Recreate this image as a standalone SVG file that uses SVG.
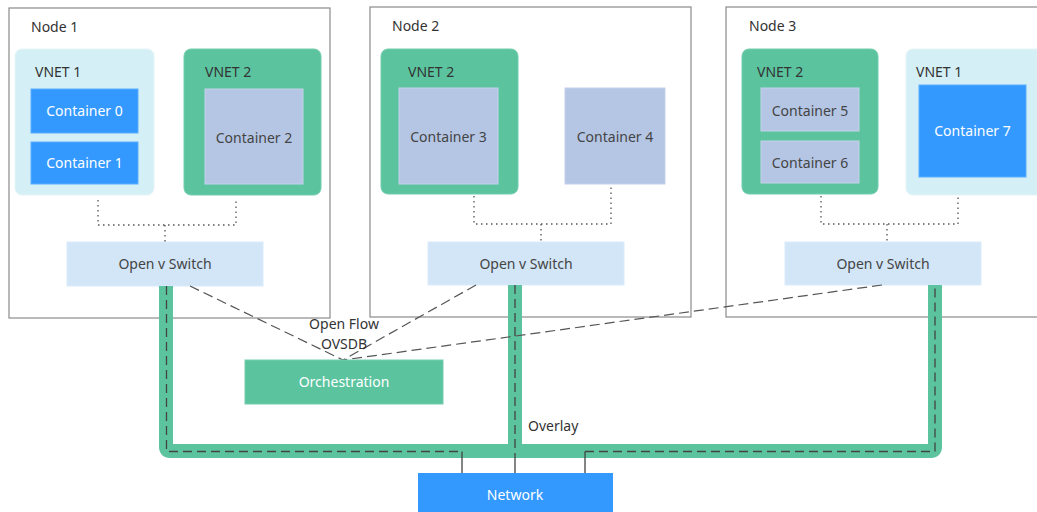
<svg xmlns="http://www.w3.org/2000/svg" width="1037" height="512" viewBox="0 0 1037 512">
  <style>
    text { font-family: "Noto Sans", "Open Sans", sans-serif; font-size: 14px; fill: #333; }
    .mid { text-anchor: middle; }
    .light { fill: #ffffff; }
    .soft { fill: #444; }
    .node { fill: #ffffff; stroke: #8a8a8a; stroke-width: 1.2; }
    .vnet-a { fill: #d4eff5; stroke: #e4f5f8; stroke-width: 1; }
    .vnet-b { fill: #5bc49f; stroke: #73cdae; stroke-width: 1; }
    .ctr-blue { fill: #3399ff; stroke: #5aaeff; stroke-width: 1; }
    .ctr-grey { fill: #b4c6e4; stroke: #c4d2ea; stroke-width: 1; }
    .switch { fill: #d2e6f8; stroke: #dcecfa; stroke-width: 1; }
    .dots { fill: none; stroke: #555; stroke-width: 1.3; stroke-dasharray: 1.5 3.5; }
    .ctrl { fill: none; stroke: #555; stroke-width: 1.2; stroke-dasharray: 10 5; }
    .pipe { fill: none; stroke: #5bc49f; stroke-width: 14; stroke-linejoin: round; }
    .tunnel { fill: none; stroke: #444; stroke-width: 1.3; stroke-dasharray: 9 5; }
    .drop { fill: none; stroke: #444; stroke-width: 1.3; }
  </style>

  <!-- Host nodes -->
  <g id="node1">
    <rect class="node" x="9" y="8" width="321" height="310"/>
    <text x="31" y="32">Node 1</text>
    <g id="node1-vnet1">
      <rect class="vnet-a" x="15" y="49" width="139" height="146" rx="7"/>
      <text x="35" y="77">VNET 1</text>
    </g>
    <g id="container0">
      <rect class="ctr-blue" x="31" y="89" width="107" height="44"/>
      <text class="mid light" x="84.5" y="116">Container 0</text>
    </g>
    <g id="container1">
      <rect class="ctr-blue" x="31" y="142" width="107" height="42"/>
      <text class="mid light" x="84.5" y="168">Container 1</text>
    </g>
    <g id="node1-vnet2">
      <rect class="vnet-b" x="184" y="49" width="137" height="146" rx="7"/>
      <text x="205" y="77">VNET 2</text>
    </g>
    <g id="container2">
      <rect class="ctr-grey" x="205" y="89" width="98" height="95"/>
      <text class="mid soft" x="254" y="143">Container 2</text>
    </g>
    <g id="switch1">
      <rect class="switch" x="67" y="242" width="196" height="44"/>
      <text class="mid soft" x="165" y="269">Open v Switch</text>
    </g>
  </g>

  <g id="node2">
    <rect class="node" x="370" y="7" width="321" height="310"/>
    <text x="392" y="31">Node 2</text>
    <g id="node2-vnet2">
      <rect class="vnet-b" x="381" y="49" width="137" height="145" rx="7"/>
      <text x="408" y="77">VNET 2</text>
    </g>
    <g id="container3">
      <rect class="ctr-grey" x="399" y="88" width="99" height="96"/>
      <text class="mid soft" x="448.5" y="142">Container 3</text>
    </g>
    <g id="container4">
      <rect class="ctr-grey" x="565" y="88" width="100" height="96"/>
      <text class="mid soft" x="615" y="142">Container 4</text>
    </g>
    <g id="switch2">
      <rect class="switch" x="428" y="242" width="196" height="43"/>
      <text class="mid soft" x="526" y="269">Open v Switch</text>
    </g>
  </g>

  <g id="node3">
    <rect class="node" x="726" y="7" width="330" height="310"/>
    <text x="749" y="31">Node 3</text>
    <g id="node3-vnet2">
      <rect class="vnet-b" x="742" y="49" width="136" height="145" rx="7"/>
      <text x="757" y="77">VNET 2</text>
    </g>
    <g id="container5">
      <rect class="ctr-grey" x="761" y="88" width="98" height="43"/>
      <text class="mid soft" x="810" y="116">Container 5</text>
    </g>
    <g id="container6">
      <rect class="ctr-grey" x="761" y="141" width="98" height="42"/>
      <text class="mid soft" x="810" y="168">Container 6</text>
    </g>
    <g id="node3-vnet1">
      <rect class="vnet-a" x="906" y="49" width="140" height="146" rx="7"/>
      <text x="916" y="77">VNET 1</text>
    </g>
    <g id="container7">
      <rect class="ctr-blue" x="919" y="85" width="107" height="92"/>
      <text class="mid light" x="972.5" y="136">Container 7</text>
    </g>
    <g id="switch3">
      <rect class="switch" x="785" y="242" width="196" height="43"/>
      <text class="mid soft" x="883" y="269">Open v Switch</text>
    </g>
  </g>

  <!-- Connectors -->
  <g id="connectors">
    <!-- overlay pipe between the switches and the network -->
    <path class="pipe" d="M166 286 V447 Q166 451 170 451 H931 Q935 451 935 447 V285"/>
    <path class="pipe" d="M515 285 V451"/>
    <!-- tunnels running inside the pipe -->
    <path class="tunnel" d="M166.5 286 V451.5 H462"/>
    <path class="tunnel" d="M515 285 V459"/>
    <path class="tunnel" d="M585 451.5 H935 V285"/>
    <path class="drop" d="M462 451.5 V473 M515 459 V473 M585 451.5 V473"/>

    <!-- container to switch links -->
    <path class="dots" d="M98 200 V225 H236 V200 M165 225 V242"/>
    <path class="dots" d="M474 196 V224 H611 V184 M541 224 V242"/>
    <path class="dots" d="M821 196 V224 H958 V196 M887 224 V242"/>

    <!-- control channels to orchestration -->
    <path class="ctrl" d="M190 286 L343 360"/>
    <path class="ctrl" d="M476 285 L343 360"/>
    <path class="ctrl" d="M882 285 L343 360"/>
  </g>

  <text class="mid" x="344" y="329">Open Flow</text>
  <text class="mid" x="344" y="349">OVSDB</text>
  <text x="528" y="431">Overlay</text>

  <g id="orchestration">
    <rect x="245" y="360" width="198" height="44" fill="#5bc49f" stroke="#74cdae" stroke-width="1"/>
    <text class="mid light" x="344" y="387">Orchestration</text>
  </g>

  <g id="network">
    <rect x="418" y="473" width="195" height="45" fill="#3399ff"/>
    <text class="mid light" x="515" y="500">Network</text>
  </g>
</svg>
